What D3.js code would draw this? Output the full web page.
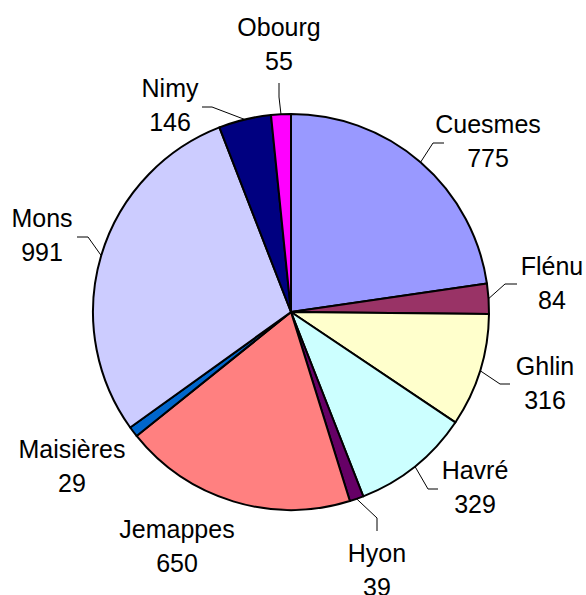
<!DOCTYPE html>
<html>
<head>
<meta charset="utf-8">
<script src="https://cdn.jsdelivr.net/npm/d3@7"></script>
<style>
  html, body { margin: 0; padding: 0; background: #fff; }
  svg { display: block; }
</style>
</head>
<body>
<svg id="chart" width="586" height="595"></svg>
<script>
// ---- data ----
const categories = ["Cuesmes", "Flénu", "Ghlin", "Havré", "Hyon", "Jemappes", "Maisières", "Mons", "Nimy", "Obourg"];
const values = [775, 84, 316, 329, 39, 650, 29, 991, 146, 55];
const colors = ["#9999FF", "#993366", "#FFFFCC", "#CCFFFF", "#660066", "#FF8080", "#0066CC", "#CCCCFF", "#000080", "#FF00FF"];

// ---- layout (label placement: centre x, first baseline, leader elbow & end) ----
const labelLayout = {
  "Cuesmes":   { x: 488, y: 133, leader: [[433, 143], [444, 143]] },
  "Flénu":     { x: 552, y: 275, leader: [[505, 284], [517, 284]] },
  "Ghlin":     { x: 545, y: 375, leader: [[500, 384], [510, 384]] },
  "Havré":     { x: 475, y: 479, leader: [[428, 489], [438, 489]] },
  "Hyon":      { x: 377, y: 562, leader: [[377, 518], [377, 531]] },
  "Jemappes":  { x: 177, y: 538, leader: null },
  "Maisières": { x: 72,  y: 458, leader: null },
  "Mons":      { x: 42,  y: 227, leader: [[88, 237], [77, 237]] },
  "Nimy":      { x: 170, y: 97,  leader: [[212, 107], [202, 107]] },
  "Obourg":    { x: 279, y: 36,  leader: [[279, 97], [279, 83]] }
};

const cx = 291, cy = 312, R = 198;
const lineGap = 34;

const data = categories.map((c, i) => ({ name: c, value: values[i], color: colors[i] }));

const svg = d3.select("#chart");
const g = svg.append("g").attr("transform", `translate(${cx},${cy})`);

const pie = d3.pie().value(d => d.value).sort(null);
const arc = d3.arc().innerRadius(0).outerRadius(R);
const arcs = pie(data);

g.selectAll("path.slice")
  .data(arcs)
  .enter().append("path")
  .attr("class", "slice")
  .attr("d", arc)
  .attr("fill", d => d.data.color)
  .attr("stroke", "#000")
  .attr("stroke-width", 2)
  .attr("stroke-linejoin", "round");

// leader lines
arcs.forEach(a => {
  const lay = labelLayout[a.data.name];
  if (!lay || !lay.leader) return;
  const mid = (a.startAngle + a.endAngle) / 2;
  const sx = cx + R * Math.sin(mid);
  const sy = cy - R * Math.cos(mid);
  const pts = [[sx, sy]].concat(lay.leader);
  svg.append("path")
    .attr("d", d3.line()(pts))
    .attr("fill", "none")
    .attr("stroke", "#000")
    .attr("stroke-width", 1);
});

// labels
arcs.forEach(a => {
  const lay = labelLayout[a.data.name];
  const t = svg.append("text")
    .attr("text-anchor", "middle")
    .attr("font-family", "Liberation Sans, Arial, sans-serif")
    .attr("font-size", 25)
    .attr("fill", "#000");
  t.append("tspan").attr("x", lay.x).attr("y", lay.y).text(a.data.name);
  t.append("tspan").attr("x", lay.x).attr("y", lay.y + lineGap).text(d3.format("d")(a.data.value));
});
</script>
</body>
</html>
